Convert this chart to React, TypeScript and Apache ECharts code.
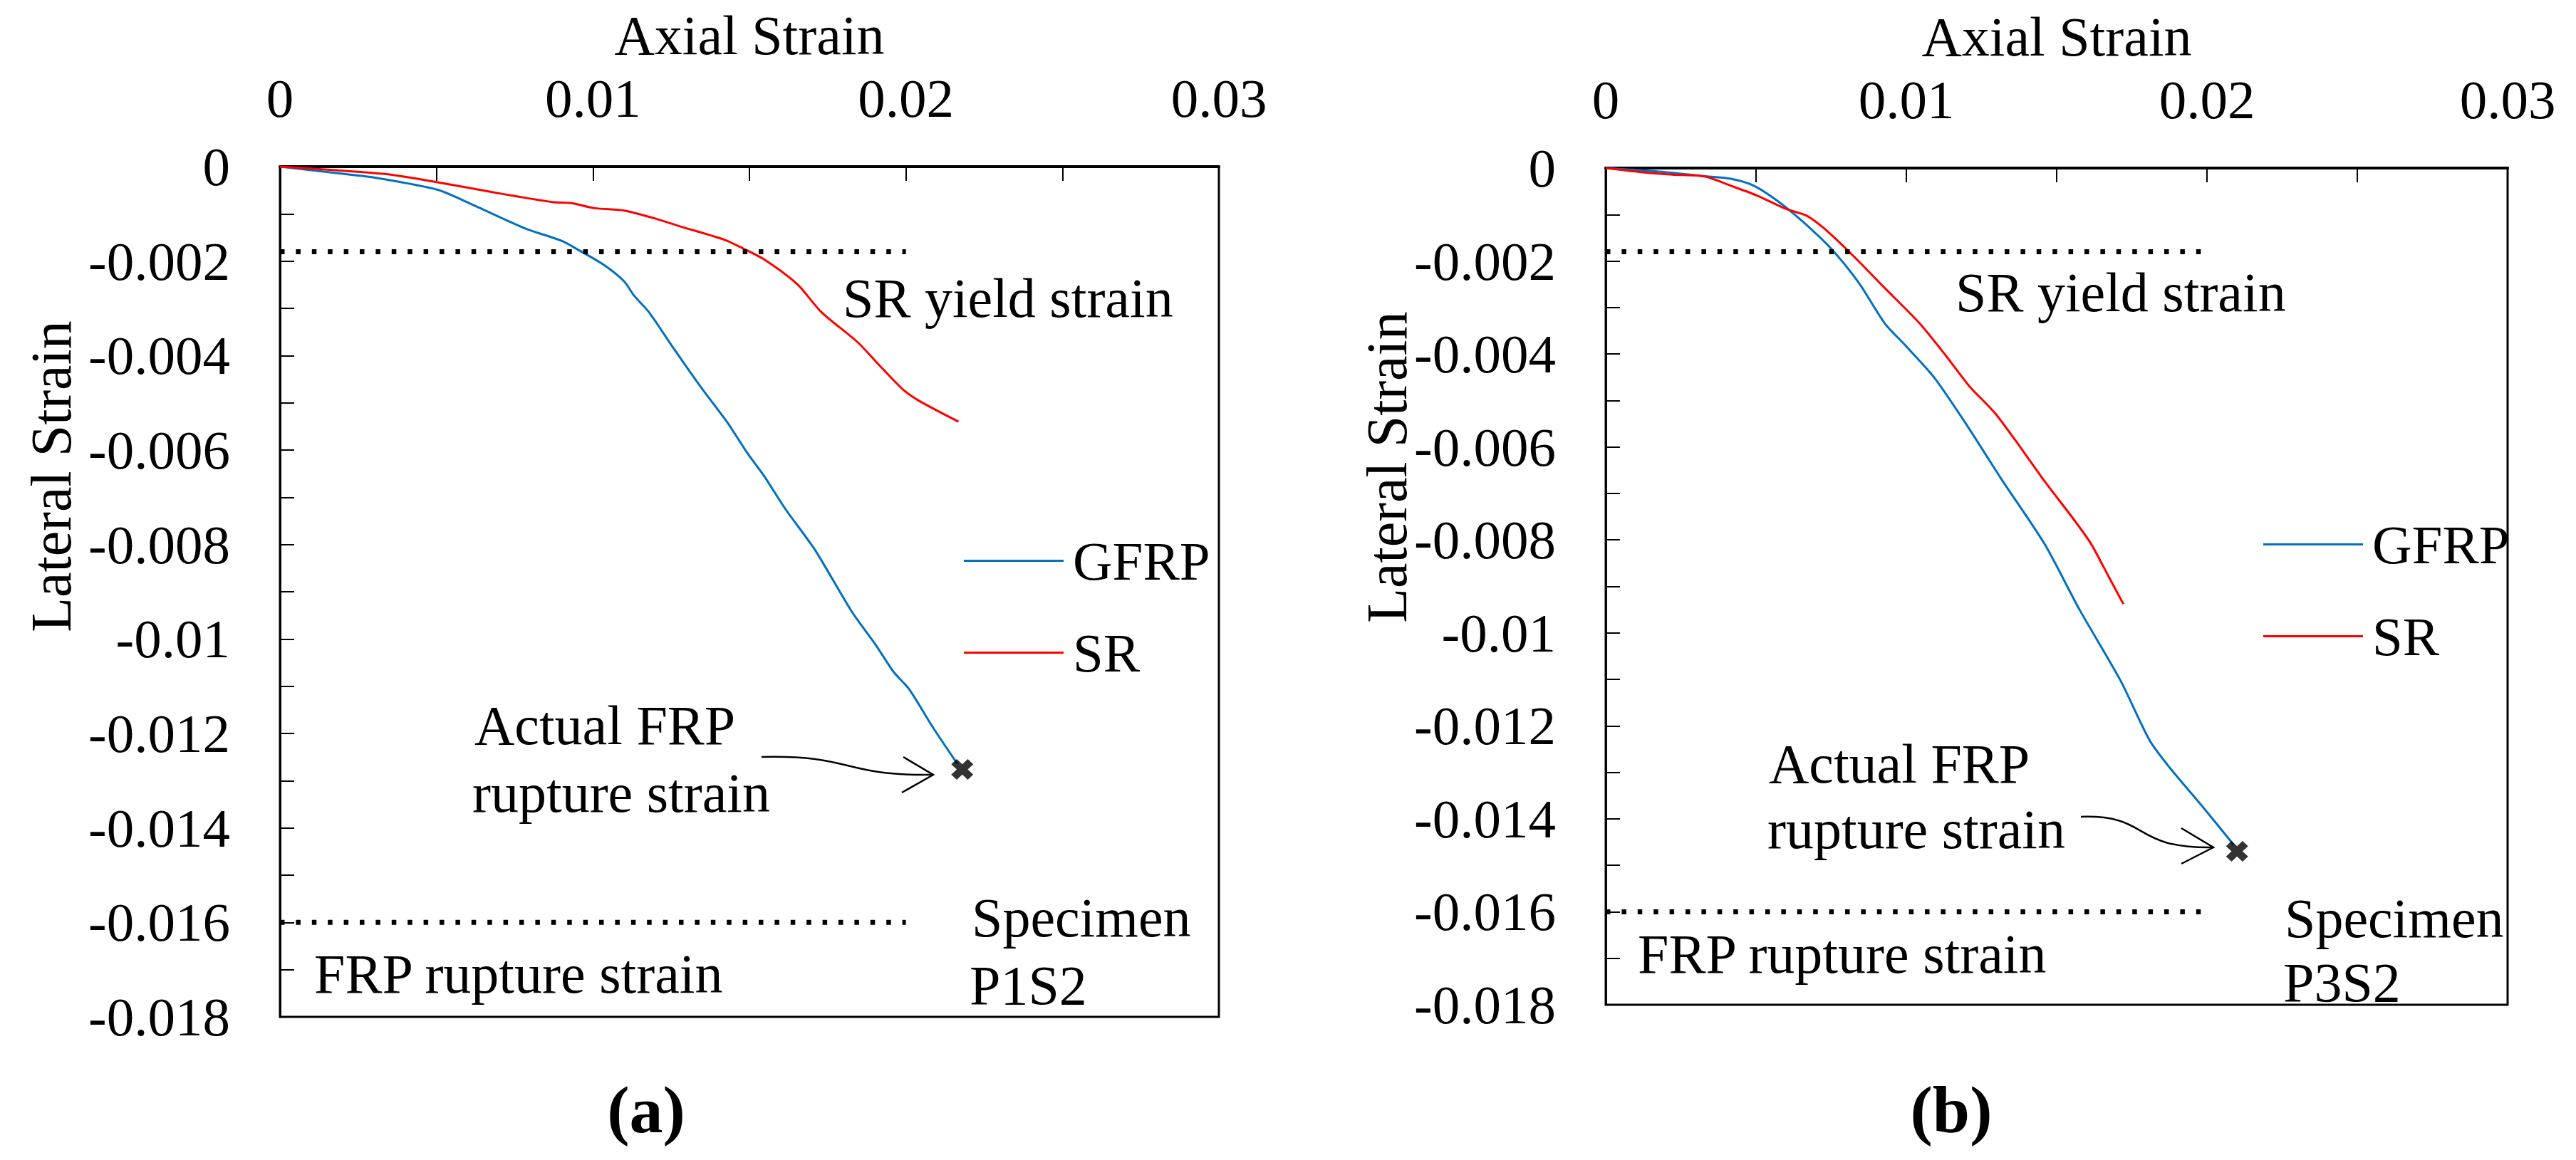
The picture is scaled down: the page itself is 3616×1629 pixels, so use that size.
import { useEffect, useRef } from 'react';
import * as echarts from 'echarts';

// axis ticks
const axialTicks = { min: 0, max: 0.03, interval: 0.01 };
const lateralTicks = { min: -0.018, max: 0, interval: 0.002 };

// (a) specimen P1S2
const gfrpAAxial = [0, 0.00185, 0.003, 0.00504, 0.0061, 0.00784, 0.009, 0.00958, 0.01035, 0.011, 0.0113, 0.01179, 0.01257, 0.01344, 0.0143, 0.01494, 0.01546, 0.01614, 0.0171, 0.01826, 0.01903, 0.01961, 0.0201, 0.02087, 0.02164];
const gfrpALateral = [0, -0.00014, -0.00023, -0.00049, -0.00079, -0.00131, -0.00157, -0.00178, -0.00208, -0.00243, -0.00272, -0.00308, -0.00384, -0.00466, -0.00542, -0.00607, -0.00654, -0.00724, -0.00812, -0.00941, -0.01012, -0.0107, -0.01106, -0.01188, -0.01264];
const srAAxial = [0, 0.00185, 0.0034, 0.00494, 0.00687, 0.0087, 0.00929, 0.01006, 0.011, 0.01189, 0.01276, 0.01421, 0.01479, 0.01546, 0.01653, 0.0173, 0.01846, 0.01913, 0.01991, 0.0204, 0.02168];
const srALateral = [0, -0.00008, -0.00016, -0.00032, -0.00055, -0.00075, -0.00077, -0.00088, -0.00093, -0.00108, -0.00126, -0.00155, -0.00173, -0.00196, -0.00249, -0.00308, -0.00372, -0.00419, -0.00472, -0.00495, -0.0054];
const ruptureA = [0.0218, -0.01276];

// (b) specimen P3S2
const gfrpBAxial = [0, 0.00184, 0.00338, 0.00416, 0.00493, 0.0057, 0.00648, 0.00745, 0.00841, 0.00928, 0.00996, 0.01093, 0.01199, 0.01315, 0.0146, 0.01576, 0.01712, 0.01809, 0.01876, 0.01983, 0.02089];
const gfrpBLateral = [0, -0.00008, -0.00018, -0.00023, -0.00038, -0.0007, -0.00111, -0.0017, -0.00246, -0.00334, -0.00381, -0.00451, -0.00551, -0.00668, -0.00809, -0.0095, -0.01102, -0.01231, -0.0129, -0.01372, -0.01456];
const srBAxial = [0, 0.00106, 0.00222, 0.00329, 0.00416, 0.00503, 0.006, 0.00667, 0.00725, 0.00822, 0.00928, 0.01044, 0.01132, 0.01209, 0.01296, 0.01383, 0.0146, 0.01557, 0.01615, 0.01673, 0.01722];
const srBLateral = [0, -0.00008, -0.00014, -0.00018, -0.00038, -0.00059, -0.00088, -0.00102, -0.00129, -0.00188, -0.00258, -0.00334, -0.00404, -0.00469, -0.00528, -0.00604, -0.00674, -0.00756, -0.00809, -0.00879, -0.00938];
const ruptureB = [0.0210, -0.0147];

// reference lines (same for both specimens)
const limitAxial = [0, 0.02];
const srYieldStrain = -0.0018;
const frpRuptureStrain = -0.016;

const FONT = 'Liberation Serif';
const BLUE = '#0070C0';
const RED = '#FF0000';
const CROSS = 'path://M2.5,0 L5,2.5 L7.5,0 L10,2.5 L7.5,5 L10,7.5 L7.5,10 L5,7.5 L2.5,10 L0,7.5 L2.5,5 L0,2.5 Z';

const zip = (xs: number[], ys: number[]) => xs.map((x, i) => [x, ys[i]]);
const fmt = (v: number) => String(parseFloat(v.toFixed(4)));

const tickStyle = { color: '#000', width: 2 };

function xAxis(gridIndex: number) {
  return {
    type: 'value',
    gridIndex,
    position: 'top',
    ...axialTicks,
    name: 'Axial Strain',
    nameLocation: 'middle',
    nameGap: 146,
    nameTextStyle: { fontFamily: FONT, fontSize: 78, color: '#000' },
    axisLine: { show: true, onZero: false, lineStyle: { color: '#000', width: 4 } },
    axisTick: { show: true, inside: true, length: 20, lineStyle: tickStyle },
    minorTick: { show: true, splitNumber: 2, length: 20, lineStyle: tickStyle },
    axisLabel: { margin: 58, fontFamily: FONT, fontSize: 77, color: '#000', formatter: fmt },
    splitLine: { show: false },
  };
}

function yAxis(gridIndex: number) {
  return {
    type: 'value',
    gridIndex,
    ...lateralTicks,
    axisLine: { show: true, onZero: false, lineStyle: { color: '#000', width: 3 } },
    axisTick: { show: true, inside: true, length: 20, lineStyle: tickStyle },
    minorTick: { show: true, splitNumber: 2, length: 20, lineStyle: tickStyle },
    axisLabel: { margin: 70, fontFamily: FONT, fontSize: 77, color: '#000', formatter: fmt },
    splitLine: { show: false },
  };
}

function panelSeries(idx: number, gAx: number[], gLat: number[], sAx: number[], sLat: number[], rupture: number[]) {
  const common = { xAxisIndex: idx, yAxisIndex: idx };
  const dotted = (y: number) => ({
    ...common,
    type: 'line',
    symbol: 'none',
    silent: true,
    data: limitAxial.map((x) => [x, y]),
    lineStyle: { color: '#000', width: 7, type: [6.5, 15.9] },
  });
  return [
    {
      ...common,
      name: 'GFRP',
      type: 'line',
      symbol: 'none',
      smooth: 0.25,
      data: zip(gAx, gLat),
      lineStyle: { color: BLUE, width: 3 },
      itemStyle: { color: BLUE },
    },
    {
      ...common,
      name: 'SR',
      type: 'line',
      symbol: 'none',
      smooth: 0.25,
      data: zip(sAx, sLat),
      lineStyle: { color: RED, width: 3 },
      itemStyle: { color: RED },
    },
    dotted(srYieldStrain),
    dotted(frpRuptureStrain),
    {
      ...common,
      type: 'scatter',
      symbol: CROSS,
      symbolSize: [31, 29],
      data: [rupture],
      itemStyle: { color: '#000' },
      z: 5,
    },
  ];
}

function legend(left: number, top: number) {
  return {
    data: ['GFRP', 'SR'],
    orient: 'vertical',
    left,
    top,
    icon: 'rect',
    itemWidth: 140,
    itemHeight: 3,
    itemGap: 52,
    selectedMode: false,
    textStyle: { fontFamily: FONT, fontSize: 77, color: '#000', padding: [0, 0, 0, 8] },
  };
}

const text = (t: string, x: number, y: number, extra: Record<string, unknown> = {}) => ({
  type: 'text',
  x,
  y,
  style: { text: t, fontFamily: FONT, fontSize: 78, fill: '#000', align: 'left', verticalAlign: 'middle', ...extra },
});

const arrow = (sx: number, sy: number, c1x: number, c1y: number, c2x: number, c2y: number, ex: number, ey: number, ux: number, uy: number, lx: number, ly: number) => [
  {
    type: 'bezierCurve',
    shape: { x1: sx, y1: sy, cpx1: c1x, cpy1: c1y, cpx2: c2x, cpy2: c2y, x2: ex, y2: ey },
    style: { stroke: '#000', lineWidth: 2.5, fill: 'none' },
  },
  {
    type: 'polyline',
    shape: { points: [[ux, uy], [ex, ey], [lx, ly]] },
    style: { stroke: '#000', lineWidth: 2.5, fill: 'none' },
  },
];

export default function App() {
  const chartRef = useRef<HTMLDivElement>(null);

  useEffect(() => {
    if (!chartRef.current) return;
    document.body.style.margin = '0';
    const chart = echarts.init(chartRef.current, undefined, { renderer: 'svg' });

    const option = {
      animation: false,
      backgroundColor: '#fff',
      textStyle: { fontFamily: FONT },
      grid: [
        { left: 393, top: 234, width: 1318, height: 1194, show: true, borderColor: '#000', borderWidth: 3 },
        { left: 2254, top: 236, width: 1266, height: 1175, show: true, borderColor: '#000', borderWidth: 3 },
      ],
      xAxis: [xAxis(0), xAxis(1)],
      yAxis: [yAxis(0), yAxis(1)],
      legend: [legend(1348, 744), legend(3172, 721)],
      series: [
        ...panelSeries(0, gfrpAAxial, gfrpALateral, srAAxial, srALateral, ruptureA),
        ...panelSeries(1, gfrpBAxial, gfrpBLateral, srBAxial, srBLateral, ruptureB),
      ],
      graphic: [
        { type: 'text', x: 72, y: 669, rotation: Math.PI / 2, style: { text: 'Lateral Strain', fontFamily: FONT, fontSize: 80, fill: '#000', align: 'center', verticalAlign: 'middle' } },
        { type: 'text', x: 1947, y: 656, rotation: Math.PI / 2, style: { text: 'Lateral Strain', fontFamily: FONT, fontSize: 80, fill: '#000', align: 'center', verticalAlign: 'middle' } },
        text('SR yield strain', 1183, 418),
        text('Actual FRP', 666, 1018),
        text('rupture strain', 663, 1113),
        text('FRP rupture strain', 441, 1367),
        text('Specimen', 1364, 1288),
        text('P1S2', 1361, 1383),
        ...arrow(1069, 1063, 1200, 1060, 1180, 1090, 1310, 1088, 1268, 1063, 1266, 1113),
        text('SR yield strain', 2745, 410),
        text('Actual FRP', 2483, 1072),
        text('rupture strain', 2481, 1164),
        text('FRP rupture strain', 2299, 1339),
        text('Specimen', 3207, 1289),
        text('P3S2', 3205, 1379),
        ...arrow(2921, 1147, 3020, 1144, 2990, 1192, 3107, 1190, 3062, 1163, 3062, 1213),
        text('(a)', 907, 1558, { fontSize: 94, fontWeight: 'bold', align: 'center' }),
        text('(b)', 2739, 1558, { fontSize: 94, fontWeight: 'bold', align: 'center' }),
      ],
    };

    chart.setOption(option as echarts.EChartsOption);

    const handleResize = () => chart.resize();
    window.addEventListener('resize', handleResize);
    return () => {
      window.removeEventListener('resize', handleResize);
      chart.dispose();
    };
  }, []);

  return <div ref={chartRef} style={{ width: '3616px', height: '1629px' }}></div>;
}
